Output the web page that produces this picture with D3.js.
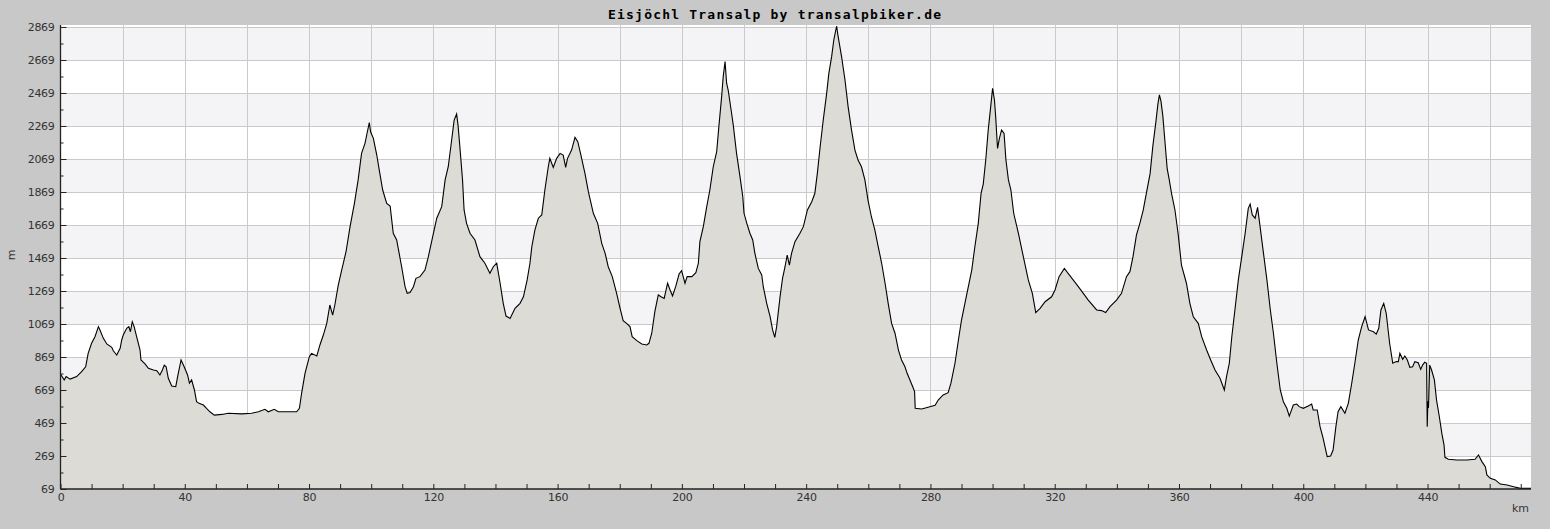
<!DOCTYPE html>
<html>
<head>
<meta charset="utf-8">
<script src="https://cdn.jsdelivr.net/npm/d3@7"></script>
<style>
  html, body { margin: 0; padding: 0; background: #c8c8c8; }
  svg { display: block; }
</style>
</head>
<body>
<svg id="chart" width="1550" height="529"></svg>
<script>
const titleText = "Eisjöchl Transalp by transalpbiker.de";
const yTickValues = [69, 269, 469, 669, 869, 1069, 1269, 1469, 1669, 1869, 2069, 2269, 2469, 2669, 2869];
const xLabelValues = [0, 40, 80, 120, 160, 200, 240, 280, 320, 360, 400, 440];

const km = [
  0, 1.2, 1.8, 3.1, 5.2, 6.8, 8.1, 8.9, 10, 11.1, 12.2, 12.7, 13.8, 14.9, 16.5, 17, 18.1, 19.2, 19.7, 20.2,
  21.3, 22, 22.5, 23.1, 23.7, 24.5, 25.6, 25.9, 27.2, 28.3, 29.9, 31, 32, 32.8, 33.4, 34, 34.7, 35.8, 37.1, 37.7,
  38.8, 39.8, 40.9, 41.5, 42.2, 43.1, 43.8, 44.6, 46, 47, 48.1, 49.5, 51.9, 54, 58.3, 61.5, 63.7, 65.8, 66.9, 68.8,
  70.1, 73.3, 76, 76.9, 77.6, 78.7, 80.1, 80.8, 82.5, 83.5, 84.6, 85.7, 86.7, 87.6, 88.3, 89.4, 90.5, 91.9, 93.2, 94.6,
  95.8, 96.9, 98, 98.7, 99.4, 99.8, 100.7, 101.8, 102.6, 103.7, 105, 106.1, 107.1, 108.2, 109.8, 110.9, 111.6, 112.5, 113.6, 114.4,
  115.7, 117.3, 118.4, 119.8, 121.1, 122.7, 123.8, 124.8, 125.9, 126.7, 127.5, 128, 128.8, 129.4, 129.9, 130.7, 131.8, 133.4, 135, 136.6,
  138.2, 139.3, 140.4, 141.5, 142.5, 143.4, 144.7, 146.3, 147.9, 149, 150.2, 151.1, 151.7, 152.7, 153.8, 154.9, 155.9, 157, 157.5, 158.6,
  159.7, 160.8, 161.8, 162.6, 163.2, 164.5, 165.6, 166.5, 167.5, 168.8, 169.9, 171.5, 172.9, 174.2, 175.3, 176.3, 177.6, 179, 180.1, 181.1,
  182.2, 183.3, 184, 185.5, 187.1, 188.7, 189.4, 190.3, 191.3, 192.4, 193.3, 194.3, 195.4, 196.2, 197, 198, 199.1, 199.9, 201, 201.7,
  203.2, 204.5, 205.3, 205.8, 206.9, 208, 209, 210.1, 211.2, 211.9, 212.8, 213.3, 213.9, 214.4, 214.9, 216, 216.6, 217.6, 218.7, 219.6,
  220, 220.9, 221.9, 222.8, 223.5, 224.6, 225.7, 226.2, 227.3, 228.4, 229.2, 229.9, 230.5, 231.6, 232.4, 233.2, 233.9, 234.6, 235.3, 236.4,
  238, 239.1, 240.4, 241.8, 242.8, 243.6, 244.5, 245.5, 246.6, 247.3, 248.2, 248.9, 249.8, 250.3, 251.4, 252.5, 253.5, 254.6, 255.7, 256.7,
  257.8, 258.9, 259.9, 261, 262.1, 263.2, 264.3, 265.4, 266.4, 267.5, 268.6, 269.7, 270.7, 271.8, 272.5, 273.4, 274.3, 274.9, 275.1, 277.2,
  279.8, 281.5, 282.5, 284.1, 285.7, 286.6, 287.9, 289, 290, 291.1, 292.2, 293.3, 294.3, 295.4, 296.3, 297, 297.8, 298.6, 299.4, 300,
  300.6, 301, 301.6, 302.2, 302.9, 303.7, 304.3, 305.1, 305.9, 306.8, 308.3, 309.9, 311.5, 312.8, 313.9, 315.3, 316.9, 319, 320.1, 321.4,
  323.1, 327.6, 330.8, 333.5, 335.1, 336.4, 337.8, 339.9, 341.5, 343.1, 344.2, 345.2, 346.3, 347.4, 348.5, 349.4, 350.7, 351.6, 352.6, 353.2,
  353.7, 354.2, 354.8, 355.5, 356.2, 356.8, 357.6, 358.7, 359.7, 360.8, 362.4, 363.5, 364.6, 366.2, 367.3, 368.9, 370.2, 371.6, 373.2, 374.6,
  375.3, 376.2, 377, 378, 379.1, 380.2, 381.3, 382.3, 382.9, 383.6, 384.5, 385.3, 386.1, 387.2, 388.3, 389.4, 390.4, 391.5, 392.6, 393.6,
  394.7, 395.5, 396.8, 397.9, 398.7, 400, 401.6, 402.7, 403.2, 404.5, 405.4, 406.4, 407, 407.7, 408.8, 409.6, 410.5, 411.2, 412.1, 413.4,
  414.5, 415.6, 416.6, 417.7, 418.8, 419.9, 421, 422.6, 423.5, 424.3, 425, 425.9, 426.7, 427.8, 428.8, 429.9, 430.6, 431.1, 432, 432.7,
  433.5, 434.3, 435.2, 435.9, 437, 437.8, 438.4, 439.1, 439.7, 439.9, 440.1, 440.3, 440.7, 441.3, 442.2, 442.9, 443.8, 444.6, 445.3, 445.6,
  446.7, 449.4, 452.6, 455.3, 456.4, 457.5, 458.6, 459.1, 460.2, 461.8, 463.4, 465.6, 467.7, 469.9, 473.3
];
const elevation = [
  765, 730, 750, 735, 750, 780, 810, 891, 952, 992, 1053, 1033, 982, 948, 928, 907, 881, 922, 972, 1002,
  1043, 1053, 1022, 1083, 1053, 992, 911, 851, 827, 800, 790, 786, 760, 790, 820, 810, 740, 693, 689, 750,
  851, 810, 760, 710, 730, 669, 598, 588, 578, 558, 537, 517, 521, 528, 524, 528, 537, 552, 537, 552,
  537, 537, 537, 558, 649, 770, 871, 891, 875, 942, 1002, 1073, 1184, 1123, 1184, 1305, 1396, 1507, 1659, 1800,
  1942, 2103, 2164, 2228, 2289, 2234, 2194, 2093, 2002, 1881, 1800, 1784, 1619, 1578, 1416, 1295, 1255, 1259, 1295, 1346,
  1356, 1396, 1477, 1598, 1710, 1780, 1942, 2022, 2184, 2305, 2342, 2265, 2083, 1942, 1760, 1679, 1619, 1578, 1477, 1437,
  1376, 1416, 1437, 1316, 1194, 1117, 1103, 1164, 1194, 1234, 1336, 1437, 1537, 1639, 1710, 1730, 1881, 2022, 2073, 2018,
  2073, 2103, 2093, 2018, 2073, 2123, 2200, 2174, 2093, 1982, 1871, 1740, 1679, 1558, 1497, 1416, 1356, 1255, 1164, 1089,
  1073, 1053, 992, 968, 948, 942, 952, 1013, 1144, 1245, 1234, 1224, 1316, 1275, 1239, 1295, 1372, 1392, 1316, 1356,
  1356, 1380, 1437, 1568, 1659, 1780, 1881, 2022, 2113, 2265, 2447, 2568, 2659, 2528, 2487, 2346, 2265, 2103, 1962, 1841,
  1740, 1679, 1619, 1578, 1497, 1406, 1366, 1295, 1194, 1113, 1033, 988, 1053, 1234, 1346, 1416, 1487, 1426, 1497, 1568,
  1619, 1659, 1760, 1810, 1861, 1982, 2143, 2305, 2467, 2588, 2689, 2790, 2875, 2810, 2689, 2548, 2386, 2245, 2123, 2063,
  2022, 1942, 1820, 1719, 1639, 1537, 1437, 1316, 1194, 1073, 1013, 911, 851, 810, 770, 730, 689, 659, 558, 554,
  568, 576, 608, 639, 653, 710, 831, 972, 1093, 1194, 1295, 1396, 1537, 1679, 1861, 1917, 2063, 2245, 2386, 2497,
  2426, 2325, 2133, 2194, 2245, 2224, 2063, 1942, 1881, 1740, 1619, 1477, 1336, 1255, 1138, 1164, 1204, 1234, 1275, 1356,
  1406, 1295, 1214, 1154, 1150, 1138, 1174, 1214, 1255, 1356, 1386, 1477, 1608, 1679, 1760, 1851, 1980, 2150, 2300, 2400,
  2457, 2420, 2330, 2170, 2010, 1950, 1861, 1760, 1619, 1426, 1316, 1194, 1113, 1073, 992, 911, 851, 790, 740, 669,
  750, 831, 992, 1154, 1336, 1477, 1619, 1770, 1796, 1730, 1710, 1776, 1659, 1497, 1336, 1154, 1013, 831, 669, 598,
  558, 511, 578, 584, 568, 558, 572, 584, 548, 548, 447, 376, 325, 265, 269, 305, 447, 537, 568, 528,
  588, 710, 831, 972, 1053, 1113, 1033, 1022, 1008, 1043, 1154, 1194, 1134, 952, 831, 841, 841, 891, 855, 875,
  851, 806, 810, 841, 834, 794, 820, 837, 831, 447, 600, 560, 820, 790, 730, 608, 507, 406, 336, 261,
  249, 245, 245, 249, 275, 235, 204, 154, 134, 124, 99, 93, 83, 73, 73
];

(function () {
  const data = km.map((k, i) => ({ km: k, m: elevation[i] }));

  const svg = d3.select("#chart");
  const pLeft = 60.5, pRight = 1531, pTop = 25, pBottom = 489;

  const x = d3.scaleLinear().domain([0, 473.3]).range([pLeft, pRight]);
  const y = d3.scaleLinear().domain([69, 2881]).range([pBottom, pTop]);

  svg.append("rect").attr("x", 0).attr("y", 0).attr("width", 1550).attr("height", 529).attr("fill", "#c8c8c8");
  svg.append("rect").attr("x", pLeft).attr("y", pTop).attr("width", pRight - pLeft).attr("height", pBottom - pTop).attr("fill", "#ffffff");

  const bands = d3.range(yTickValues.length - 1).map(i => ({ lo: yTickValues[i], hi: yTickValues[i + 1], i }));
  svg.append("g").selectAll("rect").data(bands.filter(b => b.i % 2 === 1)).join("rect")
    .attr("x", pLeft).attr("width", pRight - pLeft)
    .attr("y", d => y(d.hi)).attr("height", d => y(d.lo) - y(d.hi))
    .attr("fill", "#f4f3f6");

  const grid = svg.append("g").attr("stroke", "#cacaca").attr("stroke-width", 1).attr("shape-rendering", "crispEdges");
  grid.selectAll("line.h").data(yTickValues.slice(1)).join("line").attr("class", "h")
    .attr("x1", pLeft).attr("x2", pRight).attr("y1", d => Math.round(y(d)) + 0.5).attr("y2", d => Math.round(y(d)) + 0.5);
  const xGridValues = d3.range(20, 473, 20);
  grid.selectAll("line.v").data(xGridValues).join("line").attr("class", "v")
    .attr("y1", pTop).attr("y2", pBottom).attr("x1", d => Math.round(x(d)) + 0.5).attr("x2", d => Math.round(x(d)) + 0.5);

  const area = d3.area().x(d => x(d.km)).y0(y(69)).y1(d => y(d.m));
  svg.append("path").datum(data).attr("d", area).attr("fill", "#dcdbd6");

  const line = d3.line().x(d => x(d.km)).y(d => y(d.m));
  svg.append("path").datum(data).attr("d", line).attr("fill", "none").attr("stroke", "#000").attr("stroke-width", 1.1);

  const fontFam = "DejaVu Sans, sans-serif";
  const yAxis = d3.axisLeft(y).tickValues(yTickValues).tickSize(-6).tickPadding(6).tickFormat(d3.format("d"));
  const gy = svg.append("g").attr("transform", `translate(${pLeft},0)`).call(yAxis);
  const yMinor = d3.axisLeft(y).tickValues(yTickValues.slice(0, -1).map(v => v + 100)).tickSize(-3).tickFormat("");
  const gym = svg.append("g").attr("transform", `translate(${pLeft},0)`).call(yMinor);
  gym.select(".domain").remove();

  const xTickValues = d3.range(0, 471, 10);
  const xAxis = d3.axisBottom(x).tickValues(xTickValues).tickSize(-5).tickPadding(4)
    .tickFormat(d => xLabelValues.includes(d) ? String(d) : "");
  const gx = svg.append("g").attr("transform", `translate(0,${pBottom})`).call(xAxis);

  [gy, gym, gx].forEach(g => {
    g.selectAll(".domain").attr("stroke", "#222").attr("stroke-width", 1.3);
    g.selectAll(".tick line").attr("stroke", "#222");
    g.selectAll("text").attr("fill", "#333").attr("font-family", fontFam).attr("font-size", "11px").attr("letter-spacing", "-0.3px");
  });
  gy.select(".domain").attr("d", `M0,${pTop}V${pBottom}`);
  gx.select(".domain").attr("d", `M${pLeft},0H${pRight}`);

  svg.append("text").attr("transform", "translate(15,255) rotate(-90)").attr("text-anchor", "middle")
    .attr("font-family", fontFam).attr("font-size", "11px").attr("fill", "#333").text("m");
  svg.append("text").attr("x", 1529).attr("y", 512).attr("text-anchor", "end")
    .attr("font-family", fontFam).attr("font-size", "11px").attr("fill", "#333").text("km");

  svg.append("text").attr("x", 608).attr("y", 19).attr("textLength", 333).attr("lengthAdjust", "spacing")
    .attr("font-family", "DejaVu Sans Mono, monospace").attr("font-weight", "bold").attr("font-size", "13px")
    .attr("fill", "#000").text(titleText);
})();
</script>
</body>
</html>
